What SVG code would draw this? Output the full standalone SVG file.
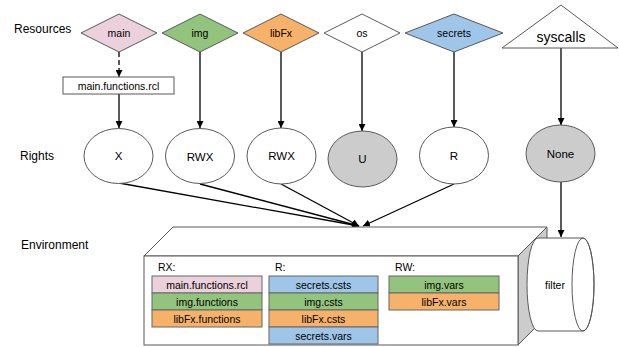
<svg xmlns="http://www.w3.org/2000/svg" width="619" height="347" viewBox="0 0 619 347">
<style>
text{font-family:"Liberation Sans",Arial,sans-serif;fill:#000}
.lbl{font-size:12px}
.n{font-size:10.5px;text-anchor:middle}
.c{font-size:11.5px;text-anchor:middle}
.shape{stroke:#595959;stroke-width:1}
.line{stroke:#000;stroke-width:1.3;fill:none}
.row{stroke:#666;stroke-width:1}
.pink{fill:#ead1dc}.green{fill:#93c47d}.orange{fill:#f6b26b}.blue{fill:#9fc5e8}.gray{fill:#cccccc}.white{fill:#fff}
</style>
<defs>
<marker id="ah" viewBox="0 0 10 10" refX="10" refY="5" markerWidth="7" markerHeight="7" markerUnits="userSpaceOnUse" orient="auto">
<path d="M0,0 L10,5 L0,10 Z" fill="#000"/>
</marker>
</defs>
<rect width="619" height="347" fill="#fff"/>
<g id="labels">
<text class="lbl" x="14" y="33">Resources</text>
<text class="lbl" x="20" y="160">Rights</text>
<text class="lbl" x="21" y="249">Environment</text>
</g>
<g id="connectors">
<line class="line" x1="119" y1="52" x2="119" y2="77" stroke-dasharray="5,3" marker-end="url(#ah)"/>
<line class="line" x1="119" y1="94" x2="119" y2="128" marker-end="url(#ah)"/>
<line class="line" x1="200" y1="52" x2="200" y2="128" marker-end="url(#ah)"/>
<line class="line" x1="281" y1="52" x2="281" y2="128" marker-end="url(#ah)"/>
<line class="line" x1="362" y1="52" x2="362" y2="131" marker-end="url(#ah)"/>
<line class="line" x1="454" y1="52" x2="454" y2="127" marker-end="url(#ah)"/>
<line class="line" x1="561" y1="48" x2="561" y2="125" marker-end="url(#ah)"/>
<line class="line" x1="119" y1="183" x2="359" y2="226" marker-end="url(#ah)"/>
<line class="line" x1="200" y1="184" x2="359" y2="226" marker-end="url(#ah)"/>
<line class="line" x1="281" y1="184" x2="359" y2="226" marker-end="url(#ah)"/>
<line class="line" x1="454" y1="184" x2="363" y2="226" marker-end="url(#ah)"/>
<line class="line" x1="561" y1="182" x2="561" y2="237" marker-end="url(#ah)"/>
</g>
<g id="main"><path class="shape pink" d="M119,14 L157,33 L119,52 L81,33 Z"/><text class="n" x="119" y="37">main</text></g>
<g id="img"><path class="shape green" d="M200,14 L238,33 L200,52 L162,33 Z"/><text class="n" x="200" y="37">img</text></g>
<g id="libFx"><path class="shape orange" d="M281,14 L319,33 L281,52 L243,33 Z"/><text class="n" x="281" y="37">libFx</text></g>
<g id="os"><path class="shape white" d="M362,14 L400,33 L362,52 L324,33 Z"/><text class="n" x="362" y="37">os</text></g>
<g id="secrets"><path class="shape blue" d="M454,14 L503,33 L454,52 L405,33 Z"/><text class="n" x="454" y="37">secrets</text></g>
<g id="syscalls"><path class="shape white" d="M561,5 L618,48 L502,48 Z"/><text x="561" y="42" style="font-size:14px;text-anchor:middle">syscalls</text></g>
<g id="mainfunctions"><rect class="shape white" x="63" y="77" width="111" height="17"/><text class="n" x="118.5" y="89.5">main.functions.rcl</text></g>
<g id="rX"><ellipse class="shape white" cx="118.5" cy="156" rx="34.5" ry="27.5"/><text class="c" x="118.5" y="160">X</text></g>
<g id="rRWX1"><ellipse class="shape white" cx="200" cy="156" rx="34.5" ry="27.5"/><text class="c" x="200" y="161">RWX</text></g>
<g id="rRWX2"><ellipse class="shape white" cx="281.5" cy="156" rx="34.5" ry="28"/><text class="c" x="281.5" y="160">RWX</text></g>
<g id="rU"><ellipse class="shape gray" cx="362.5" cy="159" rx="34.5" ry="28"/><text class="c" x="362.5" y="163">U</text></g>
<g id="rR"><ellipse class="shape white" cx="454" cy="155.5" rx="34.5" ry="28.5"/><text class="c" x="454" y="160">R</text></g>
<g id="rNone"><ellipse class="shape gray" cx="560.5" cy="153.5" rx="34.5" ry="28.5"/><text class="c" x="560.5" y="157.5">None</text></g>
<g id="environment">
<path class="shape white" d="M144,256 L173,227 L547,227 L518,256 Z"/>
<path class="shape gray" d="M518,256 L547,227 L547,316 L518,345 Z"/>
<rect class="shape white" x="144" y="256" width="374" height="89"/>
<text x="158" y="271" style="font-size:10.5px">RX:</text>
<text x="275" y="271" style="font-size:10.5px">R:</text>
<text x="395" y="271" style="font-size:10.5px">RW:</text>
<rect class="row pink" x="152" y="276" width="110" height="17"/><text class="n" x="207" y="288.5">main.functions.rcl</text>
<rect class="row green" x="152" y="293" width="110" height="17"/><text class="n" x="207" y="305.5">img.functions</text>
<rect class="row orange" x="152" y="310" width="110" height="17"/><text class="n" x="207" y="322.5">libFx.functions</text>
<rect class="row blue" x="269" y="276" width="109" height="17"/><text class="n" x="323.5" y="288.5">secrets.csts</text>
<rect class="row green" x="269" y="293" width="109" height="17"/><text class="n" x="323.5" y="305.5">img.csts</text>
<rect class="row orange" x="269" y="310" width="109" height="17"/><text class="n" x="323.5" y="322.5">libFx.csts</text>
<rect class="row blue" x="269" y="327" width="109" height="17"/><text class="n" x="323.5" y="339.5">secrets.vars</text>
<rect class="row green" x="389" y="276" width="110" height="17"/><text class="n" x="444" y="288.5">img.vars</text>
<rect class="row orange" x="389" y="293" width="110" height="17"/><text class="n" x="444" y="305.5">libFx.vars</text>
</g>
<g id="filter">
<path class="shape white" d="M538,238 L583,238 A11,46.5 0 0 1 583,331 L538,331 A11,46.5 0 0 1 538,238 Z"/>
<ellipse class="shape" fill="none" cx="583" cy="284.5" rx="11" ry="46.5"/>
<text x="555" y="289" style="font-size:10.5px;text-anchor:middle">filter</text>
</g>
</svg>
